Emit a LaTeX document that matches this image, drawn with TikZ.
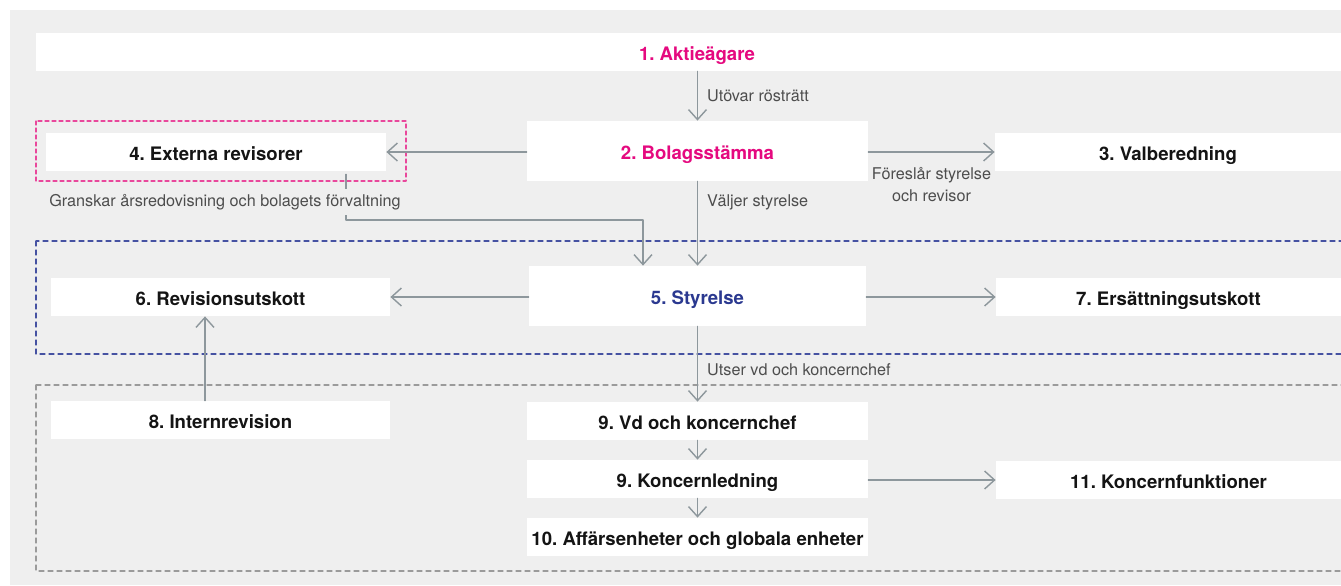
\documentclass[tikz,border=0pt]{standalone}
\usepackage{fontspec}
\setmainfont{TeX Gyre Heros}
\usetikzlibrary{arrows.meta}

\definecolor{bgc}{HTML}{EFEFEF}
\definecolor{magc}{HTML}{E5097F}
\definecolor{dmagc}{HTML}{E9489C}
\definecolor{navyc}{HTML}{2B3990}
\definecolor{dnavyc}{HTML}{4652A2}
\definecolor{linec}{HTML}{8D979C}
\definecolor{lblc}{HTML}{4D4D4D}
\definecolor{dashc}{HTML}{9B9B9B}
\definecolor{inkc}{HTML}{141414}

\begin{document}
\frenchspacing
\begin{tikzpicture}[x=0.5pt,y=-0.5pt,>={Straight Barb[length=5pt,width=9pt]},line cap=round,line join=round,
  orgbox/.style={fill=white,inner sep=0pt,minimum height=19pt,text height=8.6pt,text depth=0pt,text=inkc,font=\fontsize{9.3}{11}\selectfont\bfseries},
  conn/.style={->,draw=linec,line width=0.7pt},
  lbl/.style={inner sep=0pt,text=lblc,font=\fontsize{8.1}{11}\selectfont}]
  \useasboundingbox (0,0) rectangle (1341,585);
  \fill[white] (0,0) rectangle (1341,585);
  \fill[bgc] (10,10) rectangle (1341,585);

  \draw[dmagc,dash pattern=on 2pt off 1.5pt,line width=0.6pt] (36,121) rectangle (406,181);
  \draw[dnavyc,dash pattern=on 2.5pt off 2pt,line width=0.6pt] (36,241) rectangle (1360,354);
  \draw[dashc,dash pattern=on 2.5pt off 2pt,line width=0.6pt] (36,385) rectangle (1360,571);

  \node[orgbox,minimum width=661pt,text=magc] (akt) at (697,52) {1. Aktieägare};
  \node[orgbox,minimum width=170.5pt,minimum height=30pt,text=magc] (stamma) at (697.5,151) {2. Bolagsstämma};
  \node[orgbox,minimum width=170pt] (extrev) at (216,152) {4. Externa revisorer};
  \node[orgbox,minimum width=173pt] (valb) at (1168,152) {3. Valberedning};
  \node[orgbox,minimum width=168.5pt,minimum height=30pt,text=navyc] (styr) at (697.5,296) {5. Styrelse};
  \node[orgbox,minimum width=169.5pt] (revut) at (220.5,297) {6. Revisionsutskott};
  \node[orgbox,minimum width=172.5pt] (ersut) at (1168.5,297) {7. Ersättningsutskott};
  \node[orgbox,minimum width=169.5pt] (intrev) at (220.5,420) {8. Internrevision};
  \node[orgbox,minimum width=170.5pt] (vd) at (697.5,421) {9. Vd och koncernchef};
  \node[orgbox,minimum width=170.5pt] (kled) at (697.5,479) {9. Koncernledning};
  \node[orgbox,minimum width=170.5pt] (affe) at (697.5,537) {10. Affärsenheter och globala enheter};
  \node[orgbox,minimum width=172.5pt] (kfunk) at (1168.5,480) {11. Koncernfunktioner};

  \draw[conn] (akt.south -| stamma.north) -- node[lbl,right=4.5pt] {Utövar rösträtt} (stamma.north);
  \draw[conn] (stamma.west |- extrev) -- (extrev.east);
  \draw[conn] (stamma.east |- valb) -- node[lbl,below=7.5pt,align=center] {Föreslår styrelse\\och revisor} (valb.west);
  \draw[conn] (stamma.south) -- node[lbl,right=4.5pt,pos=0.25] {Väljer styrelse} (styr.north);

  \coordinate (gbend) at (643,220);
  \draw[conn] ([xshift=65pt,yshift=-1.5pt]extrev.south) |- (gbend) -- (gbend |- styr.north);
  \node[lbl,fill=bgc,inner sep=2.5pt] (gransk) at (225,202) {Granskar årsredovisning och bolagets förvaltning};

  \draw[conn] (styr.west |- revut) -- (revut.east);
  \draw[conn] (styr.east |- ersut) -- (ersut.west);
  \draw[conn] (styr.south) -- node[lbl,right=4.5pt,pos=0.57] {Utser vd och koncernchef} (vd.north);
  \draw[conn] ([xshift=-7.75pt]intrev.north) -- ([xshift=-7.75pt]revut.south);
  \draw[conn] (vd) -- (kled);
  \draw[conn] (kled) -- (affe);
  \draw[conn] (kled.east |- kfunk) -- (kfunk.west);
\end{tikzpicture}
\end{document}
